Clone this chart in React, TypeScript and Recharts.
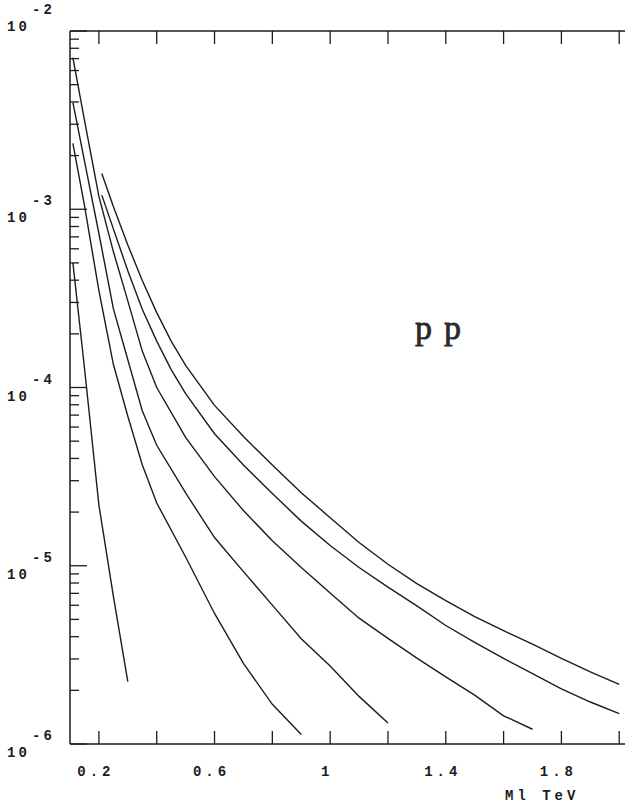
import React from 'react';
import { LineChart, Line, XAxis, YAxis } from 'recharts';

// masses (TeV) and cross sections, one pair per curve
const massA = [0.11, 0.15, 0.2, 0.25, 0.3];
const sigmaA = [5.0e-4, 1.29e-4, 2.19e-5, 6.76e-6, 2.24e-6];

const massB = [0.11, 0.15, 0.2, 0.25, 0.3, 0.35, 0.4, 0.5, 0.6, 0.7, 0.8, 0.9];
const sigmaB = [2.34e-3, 1.05e-3, 3.49e-4, 1.35e-4, 6.9e-5, 3.69e-5, 2.25e-5, 1.12e-5, 5.4e-6, 2.83e-6, 1.67e-6, 1.13e-6];

const massC = [0.11, 0.15, 0.2, 0.25, 0.3, 0.35, 0.4, 0.5, 0.6, 0.7, 0.8, 0.9, 1.0, 1.1, 1.2];
const sigmaC = [3.98e-3, 1.87e-3, 7.31e-4, 2.77e-4, 1.43e-4, 7.4e-5, 4.74e-5, 2.56e-5, 1.44e-5, 9.27e-6, 6.01e-6, 3.9e-6, 2.74e-6, 1.85e-6, 1.31e-6];

const massD = [0.11, 0.15, 0.2, 0.25, 0.3, 0.35, 0.4, 0.5, 0.6, 0.7, 0.8, 0.9, 1.0, 1.1, 1.2, 1.3, 1.4, 1.5, 1.6, 1.7];
const sigmaD = [7.08e-3, 3.16e-3, 1.18e-3, 5.79e-4, 3.06e-4, 1.6e-4, 1.0e-4, 5.25e-5, 3.16e-5, 2.04e-5, 1.38e-5, 9.77e-6, 7.03e-6, 5.08e-6, 3.91e-6, 3.03e-6, 2.38e-6, 1.88e-6, 1.44e-6, 1.21e-6];

const massE = [0.21, 0.25, 0.3, 0.35, 0.4, 0.45, 0.5, 0.6, 0.7, 0.8, 0.9, 1.0, 1.1, 1.2, 1.3, 1.4, 1.5, 1.6, 1.7, 1.8, 1.9, 2.0];
const sigmaE = [1.2e-3, 7.76e-4, 4.52e-4, 2.75e-4, 1.82e-4, 1.26e-4, 9.23e-5, 5.5e-5, 3.67e-5, 2.54e-5, 1.78e-5, 1.3e-5, 9.77e-6, 7.59e-6, 5.96e-6, 4.62e-6, 3.72e-6, 3.02e-6, 2.48e-6, 2.04e-6, 1.72e-6, 1.48e-6];

const massF = [0.21, 0.25, 0.3, 0.35, 0.4, 0.45, 0.5, 0.6, 0.7, 0.8, 0.9, 1.0, 1.1, 1.2, 1.3, 1.4, 1.5, 1.6, 1.7, 1.8, 1.9, 2.0];
const sigmaF = [1.585e-3, 1.035e-3, 6.31e-4, 3.98e-4, 2.63e-4, 1.82e-4, 1.33e-4, 7.94e-5, 5.31e-5, 3.67e-5, 2.57e-5, 1.86e-5, 1.35e-5, 1.02e-5, 7.94e-6, 6.38e-6, 5.19e-6, 4.32e-6, 3.63e-6, 3.02e-6, 2.54e-6, 2.16e-6];

const xTicks = [0.2, 0.4, 0.6, 0.8, 1, 1.2, 1.4, 1.6, 1.8, 2];
const xTickLabels = ['0.2', '', '0.6', '', '1', '', '1.4', '', '1.8', ''];
const decades = [1e-6, 1e-5, 1e-4, 1e-3, 1e-2];
const decadeLabels = ['-6', '-5', '-4', '-3', '-2'];
const minorSteps = [2, 3, 4, 5, 6, 7, 8, 9];

const yTicks = decades.flatMap((d, i) =>
    i < decades.length - 1 ? [d, ...minorSteps.map(k => k * d)] : [d]
);

const toPoints = (xs: number[], ys: number[]) => xs.map((m, i) => ({ m, s: ys[i] }));
const curves = [
    toPoints(massA, sigmaA),
    toPoints(massB, sigmaB),
    toPoints(massC, sigmaC),
    toPoints(massD, sigmaD),
    toPoints(massE, sigmaE),
    toPoints(massF, sigmaF),
];

const INK = '#1c1c1c';
const FONT = '"Liberation Mono", "DejaVu Sans Mono", monospace';

const LeftTick = (props: any) => {
    const { x, y, payload } = props;
    const i = decades.indexOf(payload.value);
    const major = i >= 0;
    // the top label sits above the frame, the others just below their tick
    const dy = payload.value === 1e-2 ? 0 : 13;
    return (
        <g>
            <line x1={x} y1={y} x2={x + (major ? 17 : 9)} y2={y} stroke={INK} strokeWidth={1.3} />
            {major && (
                <text fontFamily={FONT} fontSize={14} fontWeight="bold" fill={INK} letterSpacing={3}>
                    <tspan x={x - 63} y={y + dy}>10</tspan>
                    <tspan x={x - 38} y={y + dy - 17}>{decadeLabels[i]}</tspan>
                </text>
            )}
        </g>
    );
};

const RightTick = (props: any) => {
    const { x, y, payload } = props;
    const major = decades.indexOf(payload.value) >= 0;
    return <line x1={x} y1={y} x2={x - (major ? 17 : 7)} y2={y} stroke={INK} strokeWidth={1.3} />;
};

const BottomTick = (props: any) => {
    const { x, y, payload } = props;
    const label = xTickLabels[xTicks.indexOf(payload.value)] || '';
    return (
        <g>
            <line x1={x} y1={y} x2={x} y2={y - 13} stroke={INK} strokeWidth={1.3} />
            <text x={x - 3} y={y + 32} textAnchor="middle" fontFamily={FONT} fontSize={14}
                fontWeight="bold" fill={INK} letterSpacing={4}>
                {label}
            </text>
        </g>
    );
};

const TopTick = (props: any) => {
    const { x, y } = props;
    return <line x1={x} y1={y} x2={x} y2={y + 13} stroke={INK} strokeWidth={1.3} />;
};

const App: React.FC = () => {
    return (
        <div style={{ position: 'absolute', left: 0, top: 0, width: 625, height: 803, background: '#fff', overflow: 'hidden' }}>
            <LineChart width={625} height={803} margin={{ top: 0, right: 0, left: 0, bottom: 0 }}>
                <XAxis
                    xAxisId={0}
                    dataKey="m"
                    type="number"
                    domain={[0.1, 2.02]}
                    allowDataOverflow
                    ticks={xTicks}
                    interval={0}
                    height={59}
                    tickSize={0}
                    tickMargin={0}
                    tickLine={false}
                    axisLine={{ stroke: INK, strokeWidth: 1.5 }}
                    tick={BottomTick}
                />
                <XAxis
                    xAxisId="top"
                    orientation="top"
                    dataKey="m"
                    type="number"
                    domain={[0.1, 2.02]}
                    allowDataOverflow
                    ticks={xTicks}
                    interval={0}
                    height={31}
                    tickSize={0}
                    tickMargin={0}
                    tickLine={false}
                    axisLine={{ stroke: INK, strokeWidth: 1.5 }}
                    tick={TopTick}
                />
                <YAxis
                    yAxisId={0}
                    type="number"
                    scale="log"
                    domain={[1e-6, 1e-2]}
                    allowDataOverflow
                    ticks={yTicks}
                    interval={0}
                    width={70}
                    tickSize={0}
                    tickMargin={0}
                    tickLine={false}
                    axisLine={{ stroke: INK, strokeWidth: 1.5 }}
                    tick={LeftTick}
                />
                <YAxis
                    yAxisId="right"
                    orientation="right"
                    type="number"
                    scale="log"
                    domain={[1e-6, 1e-2]}
                    allowDataOverflow
                    ticks={yTicks}
                    interval={0}
                    width={0}
                    tickSize={0}
                    tickMargin={0}
                    tickLine={false}
                    axisLine={false}
                    tick={RightTick}
                />
                {curves.map((pts, i) => (
                    <Line
                        key={i}
                        data={pts}
                        dataKey="s"
                        type="linear"
                        stroke={INK}
                        strokeWidth={1.4}
                        dot={false}
                        activeDot={false}
                        isAnimationActive={false}
                    />
                ))}
                <text x={415} y={339} fontFamily='"Liberation Serif", "DejaVu Serif", serif' fontSize={34}
                    fill="#2a2a2a" stroke="#2a2a2a" strokeWidth={0.8} letterSpacing={12}>
                    pp
                </text>
                <text x={505} y={800} fontFamily={FONT} fontSize={14} fontWeight="bold" fill={INK} letterSpacing={4}>
                    Ml TeV
                </text>
            </LineChart>
        </div>
    );
};

export default App;
